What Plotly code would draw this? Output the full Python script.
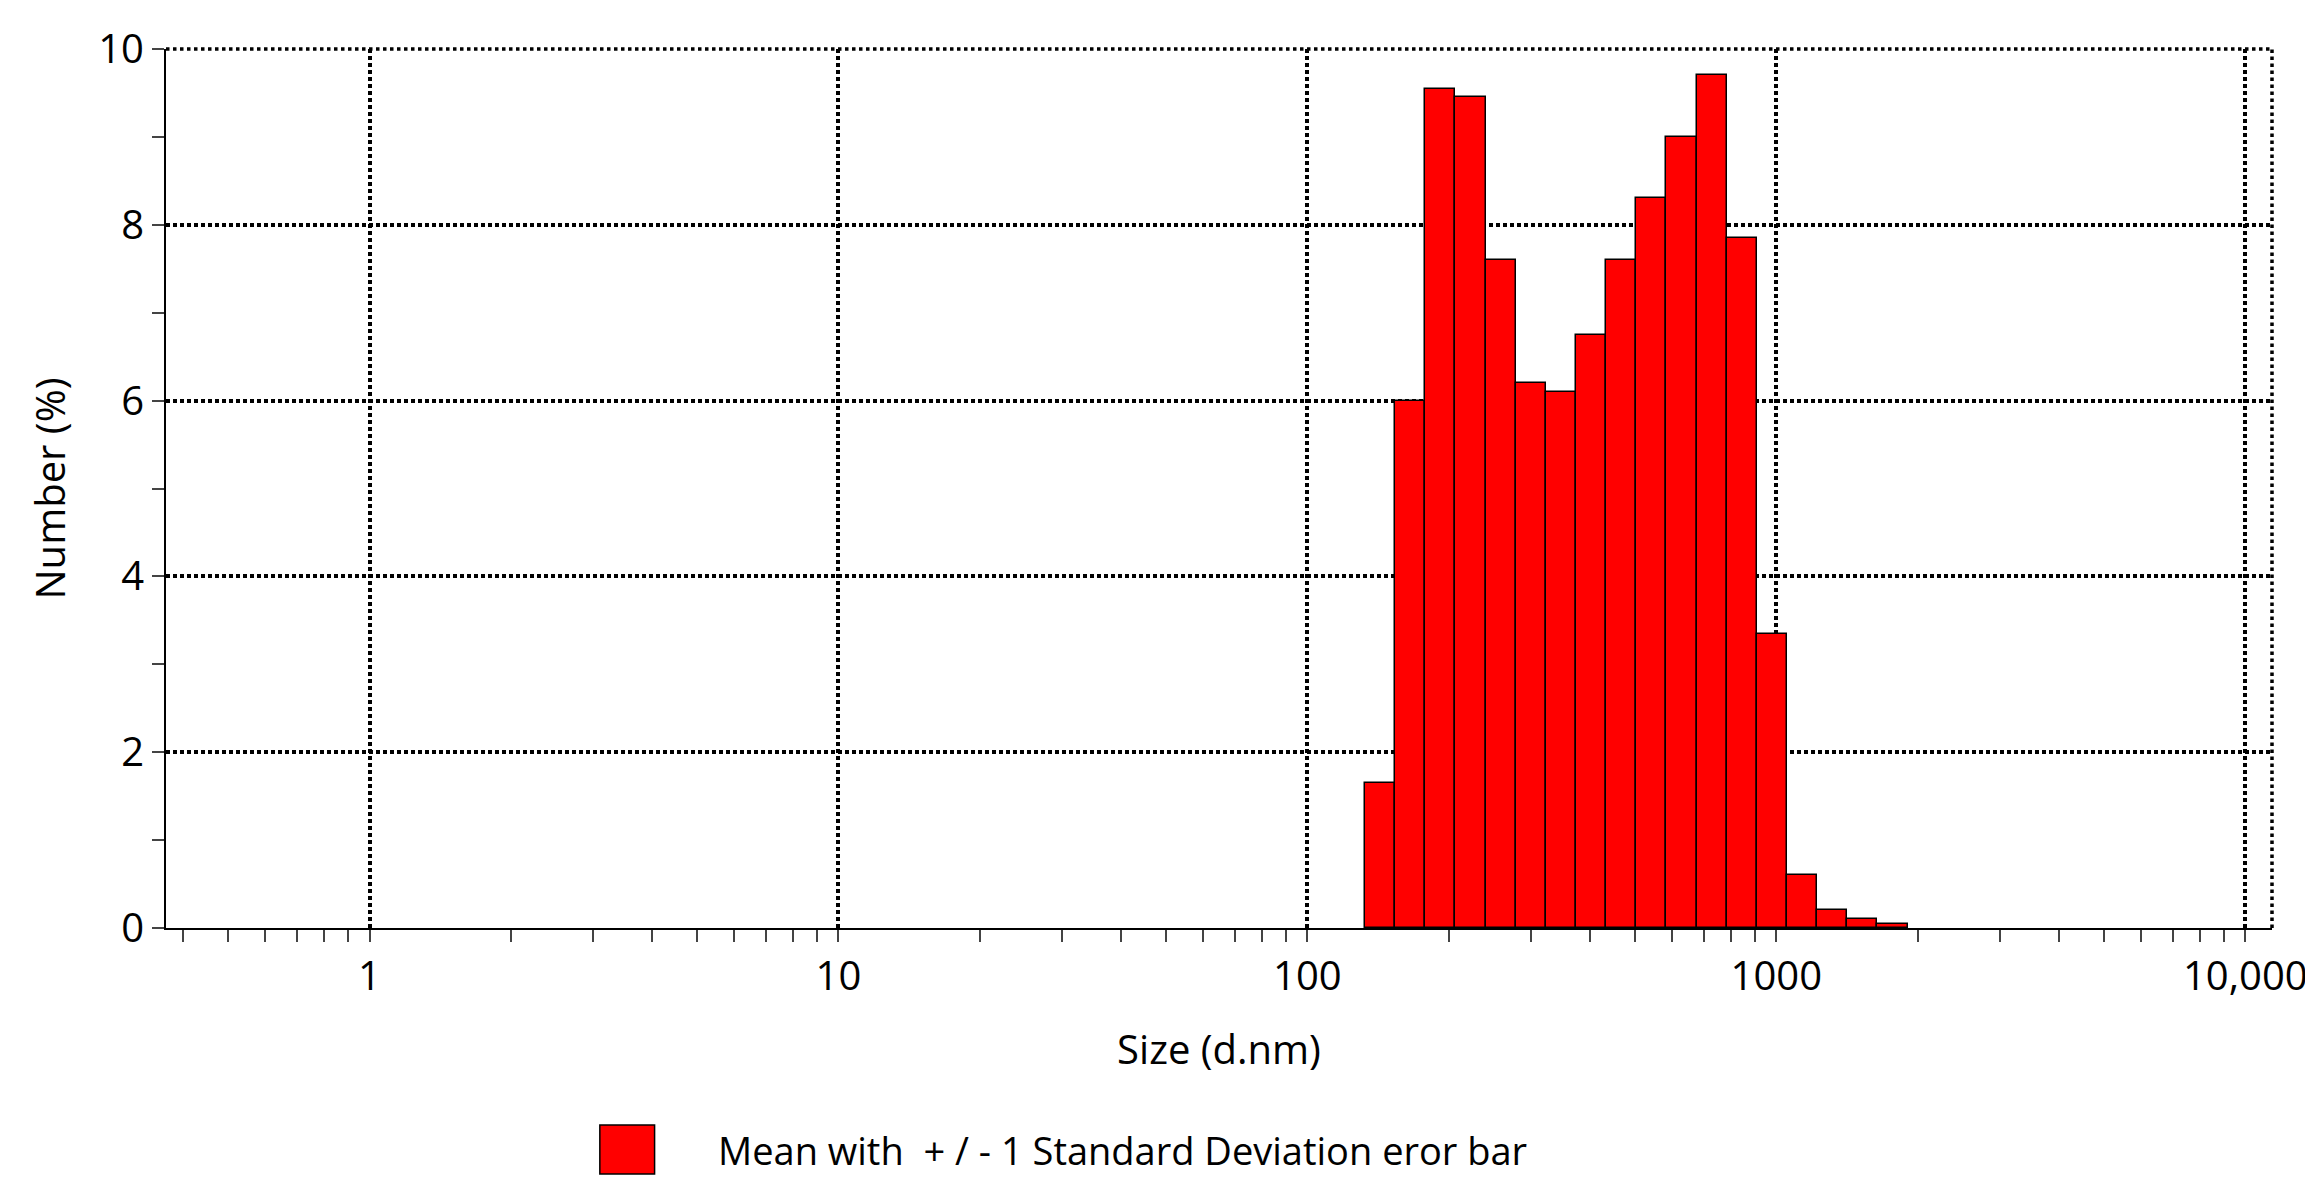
import numpy as np
import plotly.graph_objects as go

sizes_nm = [142.9, 165.7, 192.1, 222.8, 258.3, 299.5, 347.3, 402.7, 466.9, 541.4,
            627.7, 727.9, 844.0, 978.6, 1134.7, 1315.7, 1525.6, 1768.9]
number_pct = [1.65, 6.0, 9.55, 9.45, 7.6, 6.2, 6.1, 6.75, 7.6, 8.3,
              9.0, 9.7, 7.85, 3.35, 0.6, 0.2, 0.1, 0.05]
tick_sizes = [1, 10, 100, 1000, 10000]
tick_labels = ["1", "10", "100", "1000", "10,000"]
bin_width_decades = 0.0643
legend_text = "Mean with  + / - 1 Standard Deviation eror bar"

x = np.log10(sizes_nm)
fig = go.Figure()
fig.add_trace(go.Bar(x=x, y=number_pct, width=bin_width_decades,
                     marker=dict(color="#ff0000", line=dict(color="black", width=1.5)),
                     name=legend_text, showlegend=False))

minor = [np.log10(m * d) for d in [0.1, 1, 10, 100, 1000] for m in range(2, 10) if m * d > 0.37]
fig.update_layout(
    width=2313, height=1183, paper_bgcolor="white", plot_bgcolor="white",
    margin=dict(l=158, r=49, t=35, b=263), bargap=0,
    font=dict(family="Open Sans, Arial", color="black", size=40),
    xaxis=dict(range=[-0.434, 4.057], tickvals=np.log10(tick_sizes).tolist(), ticktext=tick_labels,
               showgrid=True, gridcolor="black", griddash="dot", gridwidth=3.5,
               showline=True, linecolor="black", linewidth=2, ticks="outside", ticklen=12,
               tickwidth=2, zeroline=False,
               minor=dict(tickvals=minor, ticks="outside", ticklen=12, tickwidth=2, showgrid=False),
               title=dict(text="Size (d.nm)", font=dict(size=40), standoff=35)),
    yaxis=dict(range=[0, 10], tickvals=[0, 2, 4, 6, 8, 10],
               showgrid=True, gridcolor="black", griddash="dot", gridwidth=3.5,
               showline=True, linecolor="black", linewidth=2, ticks="outside", ticklen=12,
               tickwidth=2, zeroline=False,
               minor=dict(dtick=1, ticks="outside", ticklen=12, tickwidth=2, showgrid=False),
               title=dict(text="Number (%)", font=dict(size=40), standoff=20)),
)
fig.add_shape(type="line", xref="paper", yref="paper", x0=1, x1=1, y0=0, y1=1,
              line=dict(color="black", width=3.5, dash="dot"))
fig.add_shape(type="line", xref="paper", yref="paper", x0=0, x1=1, y0=1, y1=1,
              line=dict(color="black", width=3.5, dash="dot"))
fig.add_shape(type="rect", xref="paper", yref="paper", x0=0.206, x1=0.232, y0=-0.280, y1=-0.224,
              fillcolor="#ff0000", line=dict(color="black", width=1.5))
fig.add_annotation(xref="paper", yref="paper", x=0.261, y=-0.252, text=legend_text,
                   showarrow=False, xanchor="left", yanchor="middle", font=dict(size=38))
fig.write_html("out.html")
